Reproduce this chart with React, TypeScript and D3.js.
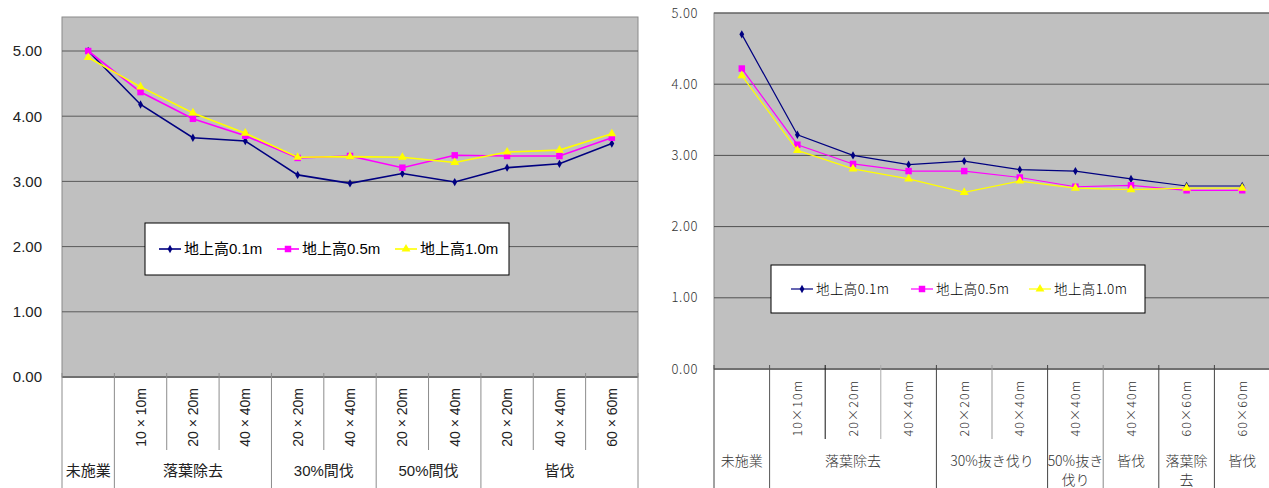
import React from 'react';
import * as d3 from 'd3';

// ---------- data ----------
const seriesNames = ['地上高0.1m', '地上高0.5m', '地上高1.0m'];
const seriesColors = ['#000080', '#ff00ff', '#ffff00'];
const seriesSymbols = [d3.symbolDiamond, d3.symbolSquare, d3.symbolTriangle];

const leftSizeLabels = ['', '10 × 10m', '20 × 20m', '40 × 40m', '20 × 20m', '40 × 40m', '20 × 20m', '40 × 40m', '20 × 20m', '40 × 40m', '60 × 60m'];
const leftGroupLabels = ['未施業', '落葉除去', '30%間伐', '50%間伐', '皆伐'];
const leftGroupSpans = [1, 3, 2, 2, 3];
const left01 = [5.0, 4.18, 3.67, 3.62, 3.10, 2.97, 3.12, 2.99, 3.21, 3.27, 3.58];
const left05 = [5.0, 4.37, 3.96, 3.70, 3.36, 3.39, 3.21, 3.40, 3.39, 3.39, 3.67];
const left10 = [4.9, 4.45, 4.05, 3.74, 3.37, 3.38, 3.37, 3.29, 3.45, 3.48, 3.73];

const rightSizeLabels = ['', '10×10m', '20×20m', '40×40m', '20×20m', '40×40m', '40×40m', '40×40m', '60×60m', '60×60m'];
const rightGroupLabels = ['未施業', '落葉除去', '30%抜き伐り', '50%抜き\n伐り', '皆伐', '落葉除\n去', '皆伐'];
const rightGroupSpans = [1, 3, 2, 1, 1, 1, 1];
const right01 = [4.70, 3.29, 3.00, 2.87, 2.92, 2.80, 2.78, 2.67, 2.57, 2.57];
const right05 = [4.22, 3.15, 2.88, 2.78, 2.78, 2.69, 2.56, 2.58, 2.51, 2.51];
const right10 = [4.12, 3.07, 2.81, 2.67, 2.48, 2.64, 2.54, 2.52, 2.54, 2.54];

const yTicks = [0, 1, 2, 3, 4, 5];

type Cfg = {
  left: number; right: number; top: number; bottom: number; yTop: number;
  sizeLabels: string[]; groupLabels: string[]; groupSpans: number[];
  series: number[][];
  font: string; weight: number; textColor: string;
  tickFont: number; tickRight: number; tickLS: number;
  sizeFont: number; sizeEndY: number; sizeLS: number;
  groupFont: number; groupY: number; groupLineH: number;
  shortEnd: number; axisBottom: number;
  legend: { x: number; y: number; w: number; h: number; items: number[]; font: number; ls: number };
  lineW: number; gridColor: string; sepColors: string[];
};

function Chart({ c }: { c: Cfg }) {
  const n = c.sizeLabels.length;
  const x = d3.scaleBand<number>().domain(d3.range(n)).range([c.left, c.right]).padding(0);
  const bw = x.bandwidth();
  const cx = (i: number) => (x(i) as number) + bw / 2;
  const y = d3.scaleLinear().domain([0, c.yTop]).range([c.bottom, c.top]);
  const line = d3.line<number>().x((_, i) => cx(i)).y((d) => y(d));

  const groupStarts: number[] = [];
  let acc = 0;
  c.groupSpans.forEach((s) => { groupStarts.push(acc); acc += s; });
  const boundarySet = new Set(groupStarts.concat([n]));
  const symSize = (si: number) => (si === 0 ? 20 : si === 1 ? 42 : 34);

  return (
    <g fontFamily={c.font} fontWeight={c.weight}>
      <rect x={c.left} y={c.top} width={c.right - c.left} height={c.bottom - c.top} fill="#c0c0c0" stroke="#8a8a8a" strokeWidth={1} />
      {yTicks.map((t) => (
        <g key={t}>
          {t > 0 && <line x1={c.left} x2={c.right} y1={y(t)} y2={y(t)} stroke={c.gridColor} strokeWidth={1} />}
          <text x={c.tickRight} y={y(t)} dy="0.36em" textAnchor="end" fontSize={c.tickFont} fill={c.textColor} letterSpacing={c.tickLS}>
            {d3.format('.2f')(t)}
          </text>
        </g>
      ))}
      <line x1={c.left} x2={c.right} y1={c.bottom} y2={c.bottom} stroke="#707070" strokeWidth={2} />
      {d3.range(0, n + 1).map((i) => {
        const xx = i < n ? (x(i) as number) : c.right;
        const long = boundarySet.has(i);
        return (
          <line key={i} x1={xx} x2={xx} y1={c.bottom - 4} y2={long ? c.axisBottom : c.shortEnd}
            stroke={c.sepColors[i % c.sepColors.length]} strokeWidth={1} />
        );
      })}
      {c.sizeLabels.map((s, i) => s ? (
        <text key={i} transform={`translate(${cx(i)},${c.sizeEndY}) rotate(-90)`} dy="0.36em" textAnchor="end"
          fontSize={c.sizeFont} fill={c.textColor} letterSpacing={c.sizeLS}>{s}</text>
      ) : null)}
      {c.groupLabels.map((g, gi) => {
        const s = groupStarts[gi];
        const e = s + c.groupSpans[gi];
        const mx = ((x(s) as number) + (e < n ? (x(e) as number) : c.right)) / 2;
        const lines = g.split('\n');
        return (
          <text key={gi} x={mx} y={c.groupY} textAnchor="middle" fontSize={c.groupFont} fill={c.textColor}>
            {lines.map((l, li) => <tspan key={li} x={mx} dy={li === 0 ? '0.36em' : c.groupLineH}>{l}</tspan>)}
          </text>
        );
      })}
      {c.series.map((vals, si) => (
        <g key={si}>
          <path d={line(vals) || ''} fill="none" stroke={seriesColors[si]} strokeWidth={c.lineW} />
          {vals.map((v, i) => (
            <path key={i} transform={`translate(${cx(i)},${y(v)})`}
              d={d3.symbol(seriesSymbols[si], symSize(si))() || ''} fill={seriesColors[si]} />
          ))}
        </g>
      ))}
      <rect x={c.legend.x} y={c.legend.y} width={c.legend.w} height={c.legend.h} fill="#fff" stroke="#000" strokeWidth={1} />
      {seriesNames.map((nm, si) => {
        const lx = c.legend.items[si];
        const ly = c.legend.y + c.legend.h / 2;
        return (
          <g key={si}>
            <line x1={lx} x2={lx + 22} y1={ly} y2={ly} stroke={seriesColors[si]} strokeWidth={c.lineW} />
            <path transform={`translate(${lx + 11},${ly})`} d={d3.symbol(seriesSymbols[si], symSize(si))() || ''} fill={seriesColors[si]} />
            <text x={lx + 25} y={ly} dy="0.36em" fontSize={c.legend.font} fill="#000" letterSpacing={c.legend.ls}>{nm}</text>
          </g>
        );
      })}
    </g>
  );
}

const leftCfg: Cfg = {
  left: 62, right: 638, top: 17, bottom: 377, yTop: 360 / 65.2,
  sizeLabels: leftSizeLabels, groupLabels: leftGroupLabels, groupSpans: leftGroupSpans,
  series: [left01, left05, left10],
  font: "'Liberation Sans', 'Noto Sans CJK JP', sans-serif", weight: 400, textColor: '#222',
  tickFont: 15, tickRight: 42, tickLS: 0,
  sizeFont: 14, sizeEndY: 388, sizeLS: 0,
  groupFont: 15, groupY: 471, groupLineH: 18,
  shortEnd: 450, axisBottom: 488,
  legend: { x: 145, y: 223, w: 364, h: 52, items: [159, 277, 395], font: 15, ls: 0 },
  lineW: 1.6, gridColor: '#5a5a5a', sepColors: ['#8c8c8c'],
};

const rightCfg: Cfg = {
  left: 714, right: 1270, top: 13, bottom: 369, yTop: 5,
  sizeLabels: rightSizeLabels, groupLabels: rightGroupLabels, groupSpans: rightGroupSpans,
  series: [right01, right05, right10],
  font: "'Noto Sans CJK JP', 'DejaVu Sans', sans-serif", weight: 300, textColor: '#333',
  tickFont: 13, tickRight: 698, tickLS: 0.6,
  sizeFont: 12.5, sizeEndY: 380, sizeLS: 1,
  groupFont: 14, groupY: 461, groupLineH: 19,
  shortEnd: 439, axisBottom: 488,
  legend: { x: 771, y: 265, w: 374, h: 48, items: [791, 911, 1029], font: 13.5, ls: 0.4 },
  lineW: 1.2, gridColor: '#505050', sepColors: ['#444', '#555', '#111', '#aaa', '#444', '#999', '#444', '#888', '#444', '#444', '#444'],
};

export default function App() {
  return (
    <svg width={1269} height={488} style={{ position: 'absolute', left: 0, top: 0, background: '#fff' }}>
      <rect width={1269} height={488} fill="#fff" />
      <Chart c={leftCfg} />
      <Chart c={rightCfg} />
    </svg>
  );
}
